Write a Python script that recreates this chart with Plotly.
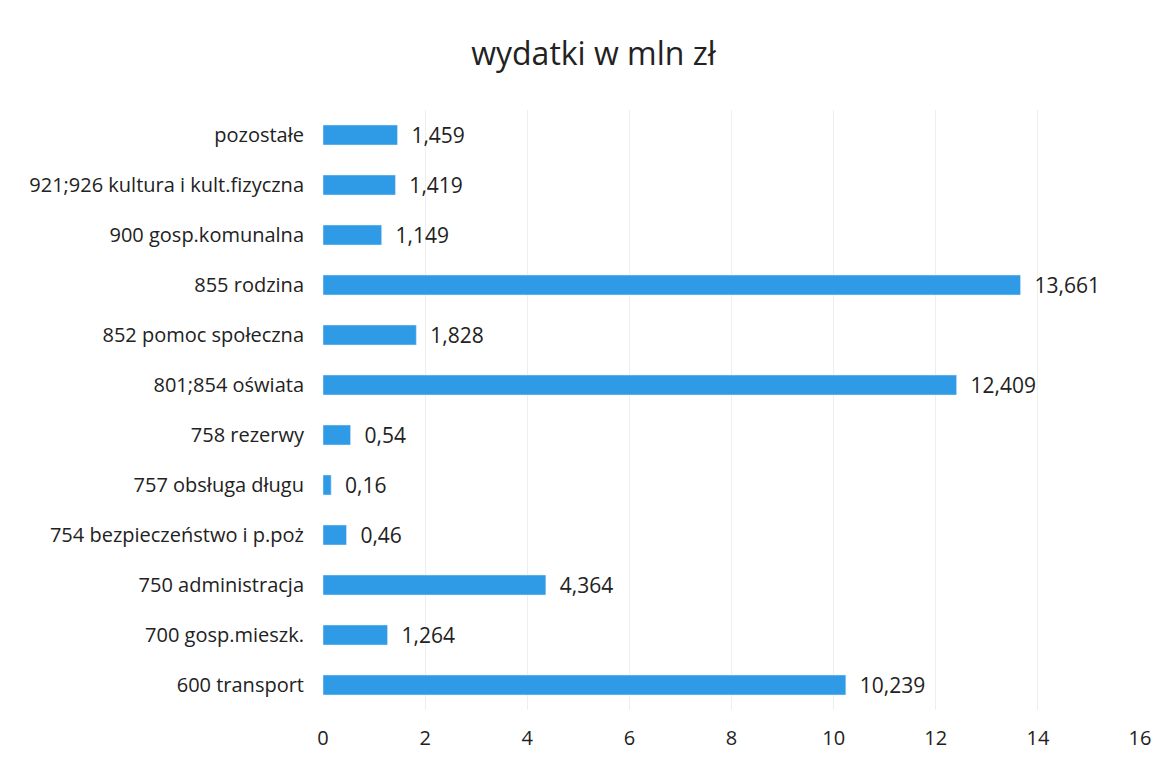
import plotly.graph_objects as go

categories = [
    "600 transport",
    "700 gosp.mieszk.",
    "750 administracja",
    "754 bezpieczeństwo i p.poż",
    "757 obsługa długu",
    "758 rezerwy",
    "801;854 oświata",
    "852 pomoc społeczna",
    "855 rodzina",
    "900 gosp.komunalna",
    "921;926 kultura i kult.fizyczna",
    "pozostałe",
]
values = [10.239, 1.264, 4.364, 0.46, 0.16, 0.54, 12.409, 1.828, 13.661, 1.149, 1.419, 1.459]

labels = ["\u00a0\u00a0" + str(v).replace(".", ",") for v in values]

fig = go.Figure(go.Bar(
    x=values,
    y=categories,
    orientation="h",
    marker_color="#2f9ae6",
    text=labels,
    textposition="outside",
    constraintext="none",
    textfont=dict(size=21, color="#222222"),
    cliponaxis=False,
))

fig.update_layout(
    width=1171,
    height=765,
    paper_bgcolor="white",
    plot_bgcolor="white",
    font=dict(family="Open Sans", size=20, color="#222222"),
    title=dict(text="wydatki w mln zł", x=0.5, xref="container", y=0.955,
               xanchor="center", yanchor="top", font=dict(size=32, color="#222222")),
    margin=dict(l=315, r=39, t=102, b=63),
    bargap=0.6,
    showlegend=False,
)
fig.update_xaxes(range=[0, 16], dtick=2, showgrid=True, gridcolor="#eeeeee",
                 zeroline=False, showline=False, ticks="", ticklabelstandoff=14,
                 tickfont=dict(size=20))
fig.update_yaxes(showgrid=False, ticks="", ticklabelstandoff=18,
                 tickfont=dict(size=20))

fig.write_html("out.html")
